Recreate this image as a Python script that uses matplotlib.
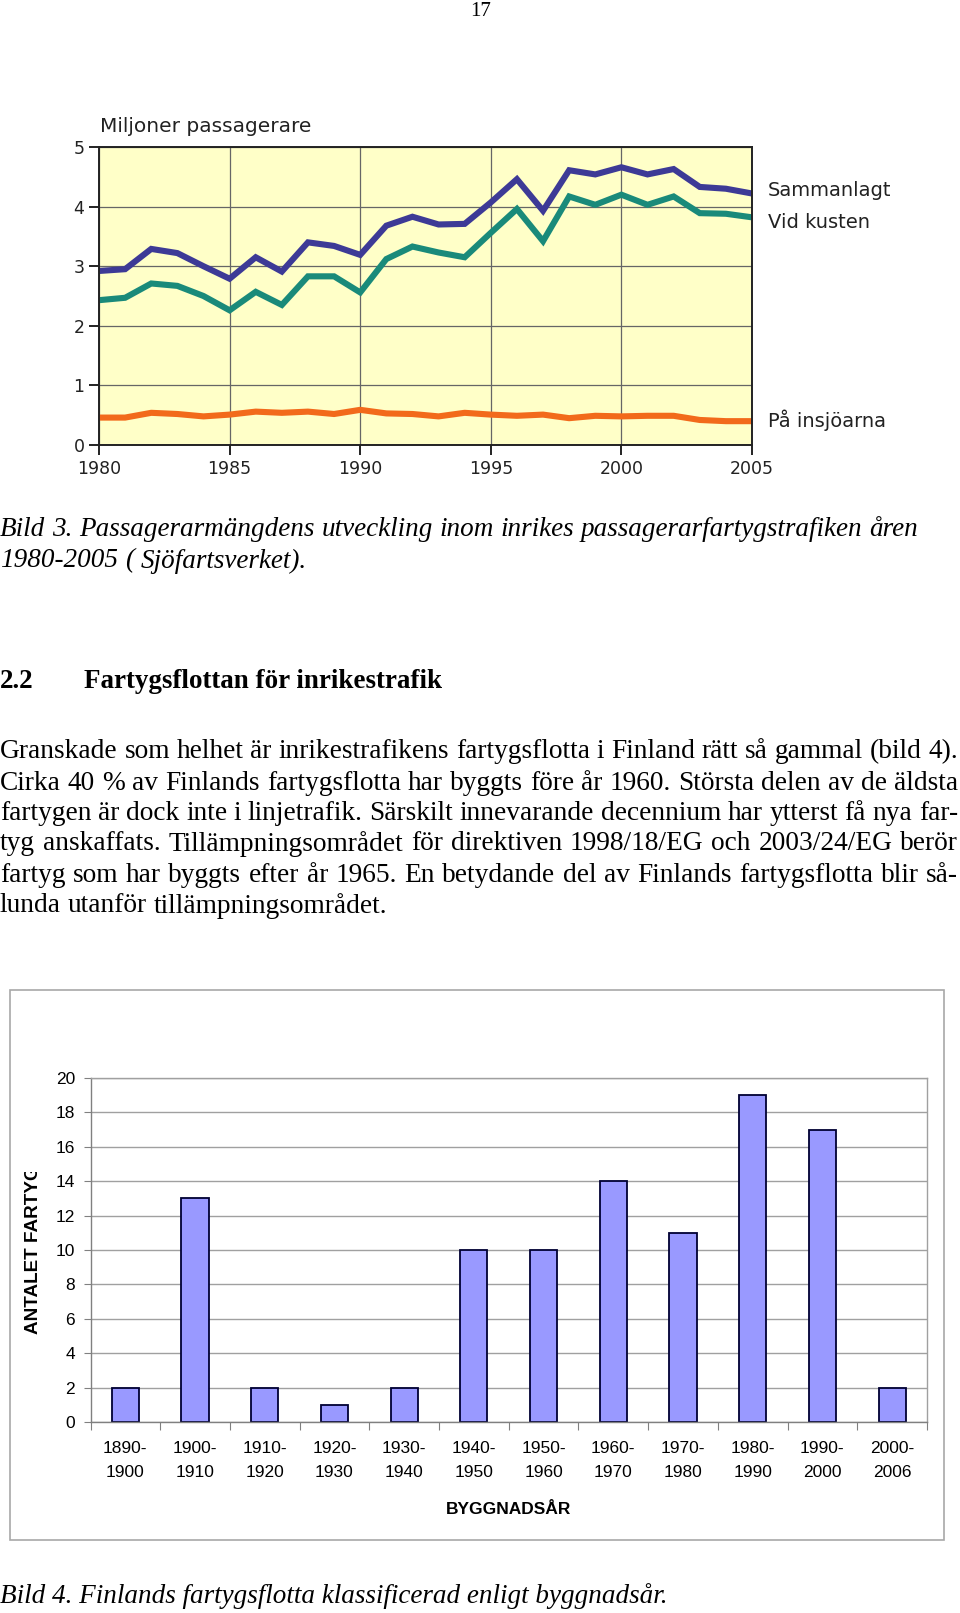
import matplotlib
matplotlib.use("Agg")
import matplotlib.pyplot as plt
from matplotlib.patches import Rectangle
from matplotlib.transforms import Bbox, TransformedBbox

# ---------------- data ----------------
years = list(range(1980, 2006))
sammanlagt = [2.92, 2.95, 3.29, 3.22, 3.00, 2.79, 3.15, 2.91, 3.40, 3.34, 3.19, 3.68, 3.83,
              3.70, 3.71, 4.07, 4.46, 3.93, 4.61, 4.54, 4.66, 4.54, 4.63, 4.33, 4.30, 4.22]
vid_kusten = [2.43, 2.47, 2.71, 2.67, 2.50, 2.26, 2.57, 2.35, 2.83, 2.83, 2.56, 3.12, 3.33,
              3.23, 3.15, 3.56, 3.96, 3.42, 4.17, 4.03, 4.20, 4.03, 4.17, 3.89, 3.88, 3.82]
insjoarna = [0.46, 0.46, 0.54, 0.52, 0.48, 0.51, 0.56, 0.54, 0.56, 0.52, 0.59, 0.53, 0.52,
             0.48, 0.54, 0.51, 0.49, 0.51, 0.45, 0.49, 0.48, 0.49, 0.49, 0.42, 0.40, 0.40]
series_labels = ["Sammanlagt", "Vid kusten", "På insjöarna"]

decades = ["1890-\n1900", "1900-\n1910", "1910-\n1920", "1920-\n1930", "1930-\n1940",
           "1940-\n1950", "1950-\n1960", "1960-\n1970", "1970-\n1980", "1980-\n1990",
           "1990-\n2000", "2000-\n2006"]
antal = [2, 13, 2, 1, 2, 10, 10, 14, 11, 19, 17, 2]

caption3 = ["Bild 3. Passagerarmängdens utveckling inom inrikes passagerarfartygstrafiken åren",
            "1980-2005 ( Sjöfartsverket)."]
heading_num = "2.2"
heading_txt = "Fartygsflottan för inrikestrafik"
body = ["Granskade som helhet är inrikestrafikens fartygsflotta i Finland rätt så gammal (bild 4).",
        "Cirka 40 % av Finlands fartygsflotta har byggts före år 1960. Största delen av de äldsta",
        "fartygen är dock inte i linjetrafik. Särskilt innevarande decennium har ytterst få nya far-",
        "tyg anskaffats. Tillämpningsområdet för direktiven 1998/18/EG och 2003/24/EG berör",
        "fartyg som har byggts efter år 1965. En betydande del av Finlands fartygsflotta blir så-",
        "lunda utanför tillämpningsområdet."]
caption4 = "Bild 4. Finlands fartygsflotta klassificerad enligt byggnadsår."

# ---------------- figure ----------------
W, H = 960, 1613
fig = plt.figure(figsize=(W / 100, H / 100), dpi=100)
fig.patch.set_facecolor("white")
renderer = fig.canvas.get_renderer()


def fx(px):
    return px / W


def fy(py):
    return 1 - py / H


def rect(l, t, r, b):
    return [fx(l), fy(b), fx(r) - fx(l), fy(t) - fy(b)]


SERIF = "Liberation Serif"
SANS = "Liberation Sans"


def text_width(s, size, **kw):
    t = fig.text(0, 0, s, fontsize=size, family=SERIF, **kw)
    w = t.get_window_extent(renderer).width
    t.remove()
    return w


def fit_size(s, target_px, **kw):
    return 20.0 * target_px / text_width(s, 20.0, **kw)


# page number
fig.text(fx(481), fy(12), "17", ha="center", va="center", fontsize=15, family=SERIF)

# ---------------- top line chart ----------------
ax1 = fig.add_axes(rect(99, 147, 752, 445))
ax1.set_facecolor("#FFFFC8")
ax1.plot(years, sammanlagt, color="#3D3A96", lw=4.4, solid_joinstyle="miter")
ax1.plot(years, vid_kusten, color="#1A8A7A", lw=4.4, solid_joinstyle="miter")
ax1.plot(years, insjoarna, color="#F26A1B", lw=4.4)
ax1.set_xlim(1980, 2005)
ax1.set_ylim(0, 5)
ax1.set_xticks(range(1980, 2006, 5))
ax1.set_yticks(range(0, 6))
ax1.grid(True, color="#666666", lw=0.9)
ax1.set_axisbelow(True)
for s in ax1.spines.values():
    s.set_color("#222222")
    s.set_linewidth(1.4)
ax1.tick_params(direction="out", length=7, width=1.4, color="#222222",
                labelsize=12.5, labelcolor="#222222")
for lab in ax1.get_xticklabels() + ax1.get_yticklabels():
    lab.set_family("DejaVu Sans")
fig.text(fx(100), fy(127), "Miljoner passagerare", fontsize=14.5, family="DejaVu Sans",
         color="#222222", ha="left", va="center")
for lab, ypx in zip(series_labels, [191, 223, 420]):
    fig.text(fx(768), fy(ypx), lab, fontsize=14, family="DejaVu Sans", color="#222222",
             ha="left", va="center")

# ---------------- text block ----------------


def justified(line, ypx, width_px, size, style="normal", justify=True):
    words = line.split(" ")
    texts = [fig.text(0, fy(ypx), w, fontsize=size, family=SERIF, style=style,
                      ha="left", va="center") for w in words]
    widths = [t.get_window_extent(renderer).width for t in texts]
    sw = text_width("a a", size, style=style) - text_width("aa", size, style=style)
    if justify and len(words) > 1:
        gap = (width_px - sum(widths)) / (len(words) - 1)
    else:
        gap = sw
    x = 0.0
    for t, w in zip(texts, widths):
        t.set_x(fx(x))
        x += w + gap


cap_size = fit_size(caption3[0], 919, style="italic")
justified(caption3[0], 530, 919, cap_size, style="italic", justify=False)
justified(caption3[1], 561, 919, cap_size, style="italic", justify=False)

head_size = fit_size(heading_txt, 358, weight="bold")
fig.text(fx(0), fy(681), heading_num, fontsize=head_size, family=SERIF, weight="bold",
         ha="left", va="center")
fig.text(fx(84), fy(681), heading_txt, fontsize=head_size, family=SERIF, weight="bold",
         ha="left", va="center")

body_size = fit_size(body[0], 958)
body_y = [752, 783, 813, 844, 875, 906]
for i, line in enumerate(body):
    justified(line, body_y[i], 958, body_size, justify=(i < len(body) - 1))

# ---------------- bottom bar chart ----------------
fig.patches.append(Rectangle((fx(10), fy(1540)), fx(944) - fx(10), fy(990) - fy(1540),
                             transform=fig.transFigure, fill=False, edgecolor="#A8A8A8",
                             lw=1.2))

ax2 = fig.add_axes(rect(90.5, 1078, 927, 1422))
xs = list(range(len(antal)))
ax2.bar(xs, antal, width=0.39, color="#9999FF", edgecolor="#000033", lw=1.3)
ax2.set_xlim(-0.5, len(antal) - 0.5)
ax2.set_ylim(0, 20)
ax2.set_yticks(range(0, 21, 2))
ax2.yaxis.grid(True, color="#A0A0A0", lw=1.0)
ax2.set_axisbelow(True)
for s in ax2.spines.values():
    s.set_color("#A0A0A0")
    s.set_linewidth(1.0)
ax2.spines["bottom"].set_color("#808080")
ax2.spines["left"].set_color("#808080")
ax2.set_xticks([x - 0.5 for x in range(len(antal) + 1)])
ax2.set_xticklabels([])
ax2.set_xticks(xs, minor=True)
ax2.set_xticklabels(decades, minor=True, family=SANS, fontsize=12.5, linespacing=1.7)
ax2.tick_params(axis="x", which="major", direction="out", length=6, color="#808080")
ax2.tick_params(axis="x", which="minor", length=0, pad=14)
ax2.tick_params(axis="y", direction="out", length=5, color="#808080", labelsize=12.5, pad=6)
for lab in ax2.get_yticklabels():
    lab.set_family(SANS)
fig.text(fx(509), fy(1510), "BYGGNADSÅR", fontsize=12.5, family=SANS, weight="bold",
         ha="center", va="center")
yl = fig.text(fx(33), fy(1334), "ANTALET FARTYG", fontsize=13.6, family=SANS, weight="bold",
              rotation=90, rotation_mode="anchor", ha="left", va="center")
yl.set_clip_on(True)
yl.set_clip_box(TransformedBbox(Bbox([[0, fy(1540)], [fx(80), fy(1172)]]), fig.transFigure))

fig.text(fx(0), fy(1596), caption4, fontsize=cap_size, family=SERIF, style="italic",
         ha="left", va="center")

fig.savefig("out.png", dpi=100)
